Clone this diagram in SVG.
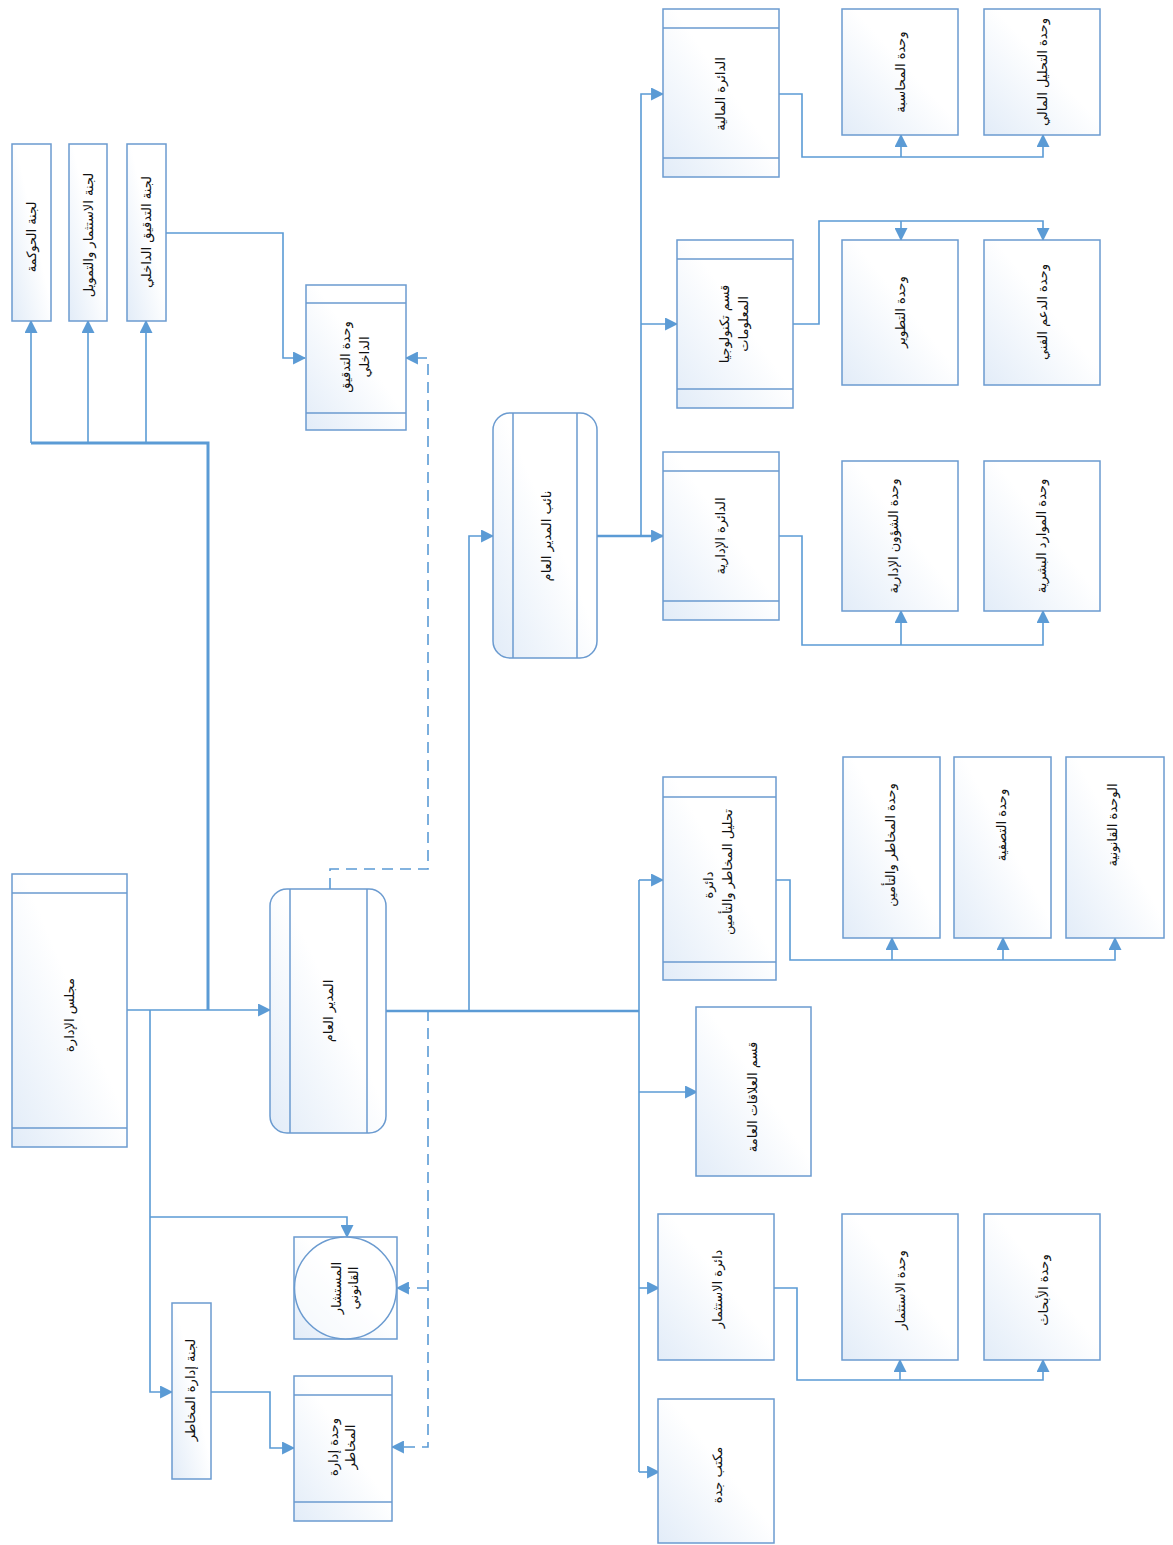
<svg xmlns="http://www.w3.org/2000/svg" width="1173" height="1545" viewBox="0 0 1173 1545">
<defs>
<linearGradient id="bg" x1="1" y1="0" x2="0" y2="1">
<stop offset="0.45" stop-color="#ffffff"/>
<stop offset="1" stop-color="#e2ecf8"/>
</linearGradient>
<marker id="arr" viewBox="0 0 12 12" refX="11" refY="6" markerWidth="13" markerHeight="13" markerUnits="userSpaceOnUse" orient="auto">
<path d="M0,0 L12,6 L0,12 Z" fill="#5b9bd5"/>
</marker>
<style>
.box{fill:url(#bg);stroke:#6b9bd0;stroke-width:1.5}
.sep{stroke:#6b9bd0;stroke-width:1.5;fill:none}
.c{fill:none;stroke:#5b9bd5;stroke-width:1.6}
.thick{stroke-width:3}
.mid{stroke-width:2.4}
.dash{stroke-dasharray:11 7}
.a{marker-end:url(#arr)}
text{font-family:"DejaVu Sans","Noto Sans",sans-serif;font-size:13px;fill:#111;text-anchor:middle;dominant-baseline:central}
</style>
</defs>
<rect width="1173" height="1545" fill="#ffffff"/>

<g id="connectors">
<path class="c" d="M127,1010 H208"/>
<path class="c a" d="M208,1010 H270"/>
<path class="c thick" d="M208,1010 V443 H31"/>
<path class="c a" d="M31,443 V321"/>
<path class="c a" d="M88,443 V321"/>
<path class="c a" d="M146,443 V321"/>
<path class="c a" d="M166,233 H283 V358 H305"/>
<path class="c dash a" d="M330,889 V869 H428 V358 H406"/>
<path class="c dash a" d="M428,1010 V1447 H392"/>
<path class="c dash a" d="M428,1288 H397"/>
<path class="c a" d="M150,1010 V1392 H172"/>
<path class="c a" d="M150,1217 H347 V1237"/>
<path class="c a" d="M211,1392 H270 V1448 H294"/>
<path class="c mid" d="M386,1011 H639"/>
<path class="c a" d="M469,1011 V536 H493"/>
<path class="c" d="M639,880 V1472"/>
<path class="c a" d="M639,880 H663"/>
<path class="c a" d="M639,1092 H697"/>
<path class="c a" d="M639,1288 H659"/>
<path class="c a" d="M639,1472 H659"/>
<path class="c mid a" d="M597,536 H663"/>
<path class="c a" d="M641,536 V94 H663"/>
<path class="c a" d="M641,324 H677"/>
<path class="c a" d="M779,94 H802 V157 H1043 V135"/>
<path class="c a" d="M901,157 V135"/>
<path class="c a" d="M793,324 H819 V221 H1043 V240"/>
<path class="c a" d="M901,221 V240"/>
<path class="c a" d="M779,536 H802 V645 H1043 V611"/>
<path class="c a" d="M901,645 V611"/>
<path class="c a" d="M776,880 H790 V960 H1115 V938"/>
<path class="c a" d="M892,960 V938"/>
<path class="c a" d="M1003,960 V938"/>
<path class="c a" d="M774,1288 H797 V1380 H1043 V1360"/>
<path class="c a" d="M900,1380 V1360"/>
</g>

<g id="governance-committee">
<rect class="box" x="12" y="144" width="39" height="177"/>
<text transform="translate(31,237) rotate(-90)">لجنة الحوكمة</text>
</g>
<g id="investment-committee">
<rect class="box" x="69" y="144" width="38" height="177"/>
<text transform="translate(88,235) rotate(-90)">لجنة الاستثمار والتمويل</text>
</g>
<g id="audit-committee">
<rect class="box" x="127" y="144" width="39" height="177"/>
<text transform="translate(146,232) rotate(-90)">لجنة التدقيق الداخلي</text>
</g>

<g id="internal-audit-unit">
<rect class="box" x="306" y="285" width="100" height="145"/>
<path class="sep" d="M306,303 H406 M306,413 H406"/>
<text transform="translate(345,357) rotate(-90)">وحدة التدقيق</text>
<text transform="translate(364,357) rotate(-90)">الداخلي</text>
</g>

<g id="board">
<rect class="box" x="12" y="874" width="115" height="273"/>
<path class="sep" d="M12,893 H127 M12,1128 H127"/>
<text transform="translate(69,1015) rotate(-90)">مجلس الإدارة</text>
</g>

<g id="general-manager">
<rect class="box" x="270" y="889" width="116" height="244" rx="17"/>
<path class="sep" d="M290,889 V1133 M367,889 V1133"/>
<text transform="translate(328,1011) rotate(-90)">المدير العام</text>
</g>

<g id="deputy-gm">
<rect class="box" x="493" y="413" width="104" height="245" rx="17"/>
<path class="sep" d="M513,413 V658 M577,413 V658"/>
<text transform="translate(546,536) rotate(-90)">نائب المدير العام</text>
</g>

<g id="finance-dept">
<rect class="box" x="663" y="9" width="116" height="168"/>
<path class="sep" d="M663,28 H779 M663,158 H779"/>
<text transform="translate(720,94) rotate(-90)">الدائرة المالية</text>
</g>
<g id="accounting-unit">
<rect class="box" x="842" y="9" width="116" height="126"/>
<text transform="translate(900,72) rotate(-90)">وحدة المحاسبة</text>
</g>
<g id="financial-analysis-unit">
<rect class="box" x="984" y="9" width="116" height="126"/>
<text transform="translate(1042,72) rotate(-90)">وحدة التحليل المالي</text>
</g>

<g id="it-section">
<rect class="box" x="677" y="240" width="116" height="168"/>
<path class="sep" d="M677,259 H793 M677,389 H793"/>
<text transform="translate(724,324) rotate(-90)">قسم تكنولوجيا</text>
<text transform="translate(743,324) rotate(-90)">المعلومات</text>
</g>
<g id="development-unit">
<rect class="box" x="842" y="240" width="116" height="145"/>
<text transform="translate(900,312) rotate(-90)">وحدة التطوير</text>
</g>
<g id="support-unit">
<rect class="box" x="984" y="240" width="116" height="145"/>
<text transform="translate(1042,312) rotate(-90)">وحدة الدعم الفني</text>
</g>

<g id="admin-dept">
<rect class="box" x="663" y="452" width="116" height="168"/>
<path class="sep" d="M663,471 H779 M663,601 H779"/>
<text transform="translate(720,536) rotate(-90)">الدائرة الإدارية</text>
</g>
<g id="admin-affairs-unit">
<rect class="box" x="842" y="461" width="116" height="150"/>
<text transform="translate(893,536) rotate(-90)">وحدة الشؤون الإدارية</text>
</g>
<g id="hr-unit">
<rect class="box" x="984" y="461" width="116" height="150"/>
<text transform="translate(1041,536) rotate(-90)">وحدة الموارد البشرية</text>
</g>

<g id="risk-dept">
<rect class="box" x="663" y="777" width="113" height="203"/>
<path class="sep" d="M663,797 H776 M663,962 H776"/>
<text transform="translate(708,885) rotate(-90)">دائرة</text>
<text transform="translate(727,872) rotate(-90)">تحليل المخاطر والتأمين</text>
</g>
<g id="risk-insurance-unit">
<rect class="box" x="843" y="757" width="97" height="181"/>
<text transform="translate(890,845) rotate(-90)">وحدة المخاطر والتأمين</text>
</g>
<g id="liquidation-unit">
<rect class="box" x="954" y="757" width="97" height="181"/>
<text transform="translate(1001,825) rotate(-90)">وحدة التصفية</text>
</g>
<g id="legal-unit">
<rect class="box" x="1066" y="757" width="98" height="181"/>
<text transform="translate(1112,825) rotate(-90)">الوحدة القانونية</text>
</g>

<g id="pr-section">
<rect class="box" x="696" y="1007" width="115" height="169"/>
<text transform="translate(752,1097) rotate(-90)">قسم العلاقات العامة</text>
</g>

<g id="investment-dept">
<rect class="box" x="658" y="1214" width="116" height="146"/>
<text transform="translate(717,1289) rotate(-90)">دائرة الاستثمار</text>
</g>
<g id="investment-unit">
<rect class="box" x="842" y="1214" width="116" height="146"/>
<text transform="translate(900,1290) rotate(-90)">وحدة الاستثمار</text>
</g>
<g id="research-unit">
<rect class="box" x="984" y="1214" width="116" height="146"/>
<text transform="translate(1043,1290) rotate(-90)">وحدة الأبحاث</text>
</g>

<g id="jeddah-office">
<rect class="box" x="658" y="1399" width="116" height="144"/>
<text transform="translate(717,1475) rotate(-90)">مكتب جدة</text>
</g>

<g id="legal-advisor">
<rect class="box" x="294" y="1237" width="103" height="102"/>
<circle cx="345.5" cy="1288" r="51" fill="#ffffff" fill-opacity="0.6" stroke="#6b9bd0" stroke-width="1.5"/>
<text transform="translate(336,1288) rotate(-90)">المستشار</text>
<text transform="translate(353,1288) rotate(-90)">القانوني</text>
</g>

<g id="risk-committee">
<rect class="box" x="172" y="1303" width="39" height="176"/>
<text transform="translate(190,1390) rotate(-90)">لجنة إدارة المخاطر</text>
</g>

<g id="risk-management-unit">
<rect class="box" x="294" y="1376" width="98" height="145"/>
<path class="sep" d="M294,1395 H392 M294,1502 H392"/>
<text transform="translate(333,1447) rotate(-90)">وحدة إدارة</text>
<text transform="translate(350,1447) rotate(-90)">المخاطر</text>
</g>
</svg>
